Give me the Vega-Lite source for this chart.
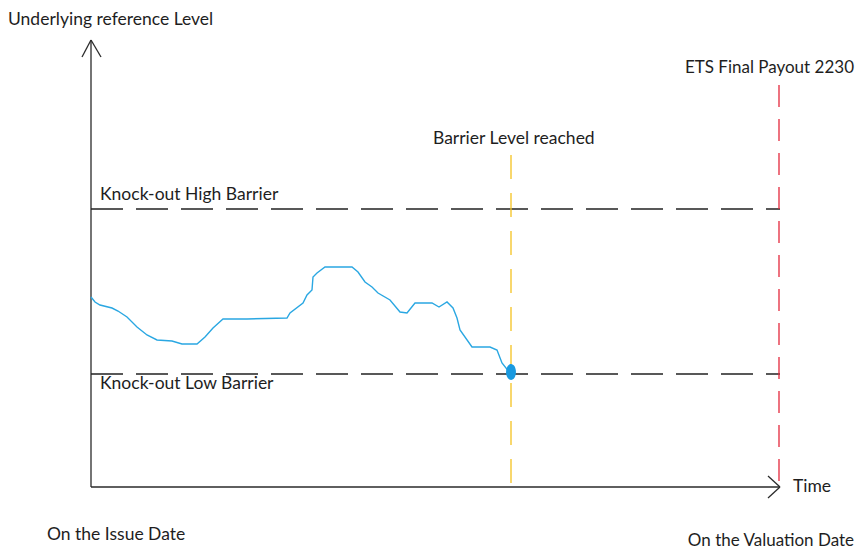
{
  "$schema": "https://vega.github.io/schema/vega-lite/v6.json",
  "width": 856,
  "height": 550,
  "autosize": "none",
  "padding": 0,
  "background": "white",
  "config": {"view": {"stroke": null}},
  "layer": [
    {
      "data": {"values": [
        {"t": 91, "v": 63, "t2": 91, "v2": 510},
        {"t": 91, "v": 510, "t2": 82, "v2": 493},
        {"t": 91, "v": 510, "t2": 101, "v2": 493},
        {"t": 91, "v": 63, "t2": 780, "v2": 63},
        {"t": 780, "v": 63, "t2": 768, "v2": 74},
        {"t": 780, "v": 63, "t2": 768, "v2": 52}
      ]},
      "mark": {"type": "rule", "color": "#2a2a2a", "strokeWidth": 1.3},
      "encoding": {
        "x": {"field": "t", "type": "quantitative", "scale": {"domain": [0, 856], "nice": false, "zero": false}, "axis": null},
        "x2": {"field": "t2"},
        "y": {"field": "v", "type": "quantitative", "scale": {"domain": [0, 550], "nice": false, "zero": false}, "axis": null},
        "y2": {"field": "v2"}
      }
    },
    {
      "data": {"values": [
        {"t": 91, "v": 341, "t2": 780, "v2": 341},
        {"t": 91, "v": 176, "t2": 780, "v2": 176}
      ]},
      "mark": {"type": "rule", "color": "#222222", "strokeWidth": 1.3, "strokeDash": [32, 13]},
      "encoding": {
        "x": {"field": "t", "type": "quantitative"},
        "x2": {"field": "t2"},
        "y": {"field": "v", "type": "quantitative"},
        "y2": {"field": "v2"}
      }
    },
    {
      "data": {"values": [{"t": 511, "v": 395, "v2": 63}]},
      "mark": {"type": "rule", "color": "#f5c220", "strokeWidth": 1.3, "strokeDash": [24, 14]},
      "encoding": {
        "x": {"field": "t", "type": "quantitative"},
        "y": {"field": "v", "type": "quantitative"},
        "y2": {"field": "v2"}
      }
    },
    {
      "data": {"values": [{"t": 779, "v": 465, "v2": 63}]},
      "mark": {"type": "rule", "color": "#e4283c", "strokeWidth": 1.3, "strokeDash": [22, 12]},
      "encoding": {
        "x": {"field": "t", "type": "quantitative"},
        "y": {"field": "v", "type": "quantitative"},
        "y2": {"field": "v2"}
      }
    },
    {
      "data": {"values": [
        {"t": 91, "v": 253}, {"t": 95, "v": 248}, {"t": 100, "v": 245}, {"t": 112, "v": 242},
        {"t": 118, "v": 239}, {"t": 127, "v": 233}, {"t": 137, "v": 223}, {"t": 147, "v": 215},
        {"t": 157, "v": 210}, {"t": 172, "v": 209}, {"t": 182, "v": 206}, {"t": 197, "v": 206},
        {"t": 205, "v": 213}, {"t": 213, "v": 222}, {"t": 223, "v": 231}, {"t": 247, "v": 231},
        {"t": 287, "v": 232}, {"t": 290, "v": 237}, {"t": 303, "v": 247}, {"t": 307, "v": 255},
        {"t": 312, "v": 260}, {"t": 313, "v": 273}, {"t": 317, "v": 277}, {"t": 325, "v": 283},
        {"t": 352, "v": 283}, {"t": 358, "v": 278}, {"t": 365, "v": 268}, {"t": 372, "v": 263},
        {"t": 378, "v": 257}, {"t": 390, "v": 250}, {"t": 400, "v": 238}, {"t": 407, "v": 237},
        {"t": 415, "v": 247}, {"t": 432, "v": 247}, {"t": 439, "v": 243}, {"t": 447, "v": 248},
        {"t": 453, "v": 242}, {"t": 457, "v": 232}, {"t": 460, "v": 220}, {"t": 472, "v": 203},
        {"t": 490, "v": 203}, {"t": 497, "v": 200}, {"t": 502, "v": 187}, {"t": 510, "v": 177}
      ]},
      "mark": {"type": "line", "color": "#2aa7e2", "strokeWidth": 1.4},
      "encoding": {
        "x": {"field": "t", "type": "quantitative"},
        "y": {"field": "v", "type": "quantitative"}
      }
    },
    {
      "data": {"values": [{"t": 511, "v": 178}]},
      "mark": {"type": "point", "filled": true, "color": "#1a9ae0", "opacity": 1, "size": 256, "shape": "M0,-1A0.62,1,0,1,1,0,1A0.62,1,0,1,1,0,-1Z"},
      "encoding": {
        "x": {"field": "t", "type": "quantitative"},
        "y": {"field": "v", "type": "quantitative"}
      }
    },
    {
      "data": {"values": [
        {"label": "Underlying reference Level", "t": 8, "v": 530},
        {"label": "Barrier Level reached", "t": 433, "v": 411},
        {"label": "Knock-out High Barrier", "t": 100, "v": 355},
        {"label": "Knock-out Low Barrier", "t": 100, "v": 166},
        {"label": "Time", "t": 793, "v": 63},
        {"label": "On the Issue Date", "t": 47, "v": 15}
      ]},
      "mark": {"type": "text", "align": "left", "baseline": "middle", "font": "Lato", "fontSize": 17.5, "color": "#1e1e1e"},
      "encoding": {
        "x": {"field": "t", "type": "quantitative"},
        "y": {"field": "v", "type": "quantitative"},
        "text": {"field": "label"}
      }
    },
    {
      "data": {"values": [
        {"label": "ETS Final Payout 2230", "t": 854, "v": 482},
        {"label": "On the Valuation Date", "t": 854, "v": 9}
      ]},
      "mark": {"type": "text", "align": "right", "baseline": "middle", "font": "Lato", "fontSize": 17, "color": "#1e1e1e"},
      "encoding": {
        "x": {"field": "t", "type": "quantitative"},
        "y": {"field": "v", "type": "quantitative"},
        "text": {"field": "label"}
      }
    }
  ]
}
